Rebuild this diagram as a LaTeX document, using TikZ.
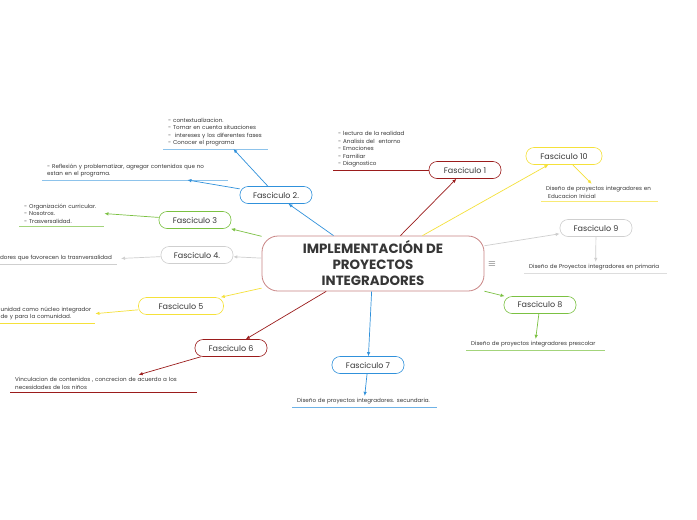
\documentclass[tikz,border=0pt]{standalone}
\usepackage{fontspec}
\setmainfont{Poppins}
\usetikzlibrary{arrows.meta}

\definecolor{rojo}{HTML}{9B1C1C}
\definecolor{azul}{HTML}{3091DB}
\definecolor{verde}{HTML}{7BC142}
\definecolor{gris}{HTML}{CFCFCF}
\definecolor{amarillo}{HTML}{F5E13A}
\definecolor{borde}{HTML}{C98585}
\definecolor{texto}{HTML}{363636}

\tikzset{
  fasc/.style={draw=#1, fill=white, rounded corners=8pt, minimum width=72pt,
    minimum height=17pt, line width=0.6pt, font=\fontsize{8}{9}\selectfont, text=texto},
  nota/.style={anchor=south west, align=left, text width=#1, inner xsep=5pt,
    inner ysep=2.5pt, font=\fontsize{5.6}{7.5}\selectfont, text=texto},
  flecha/.style={draw=#1, line width=0.7pt, -{Latex[length=4pt,width=3.5pt]}},
}

\begin{document}
\begin{tikzpicture}[x=1pt,y=-1pt]
\fill[white] (0,0) rectangle (697,520);
\useasboundingbox (0,0) rectangle (697,520);

% tema central
\node[draw=borde, fill=white, rounded corners=16pt, line width=0.8pt, minimum width=222pt,
  minimum height=55pt, align=center, text=texto,
  font=\bfseries\fontsize{13.4}{16}\selectfont] (c) at (373,263.5)
  {IMPLEMENTACIÓN DE\\PROYECTOS\\INTEGRADORES};
\node[text=texto, font=\fontsize{10}{10}\selectfont, inner sep=0pt] (menu) at (492,264) {$\equiv$};

% fasciculos
\node[fasc=rojo] (f1) at (465,170) {Fasciculo 1};
\node[fasc=azul] (f2) at (276,195) {Fasciculo 2.};
\node[fasc=verde] (f3) at (195,220) {Fasciculo 3};
\node[fasc=gris] (f4) at (197,255) {Fasciculo 4.};
\node[fasc=amarillo, minimum width=85pt] (f5) at (181,306) {Fasciculo 5};
\node[fasc=rojo] (f6) at (231,348) {Fasciculo 6};
\node[fasc=azul] (f7) at (368,365) {Fasciculo 7};
\node[fasc=verde] (f8) at (540,305) {Fasciculo 8};
\node[fasc=gris] (f9) at (596,228) {Fasciculo 9};
\node[fasc=amarillo, minimum width=76pt] (f10) at (564,156) {Fasciculo 10};

\draw[flecha=rojo] (c) -- (f1);
\draw[flecha=azul] (c) -- (f2);
\draw[flecha=verde] (c) -- (f3);
\draw[flecha=gris] (c) -- (f4);
\draw[flecha=amarillo] (c) -- (f5);
\draw[flecha=rojo] (c) -- (f6);
\draw[flecha=azul] (c) -- (f7);
\draw[flecha=verde] (c) -- (f8);
\draw[flecha=gris] (c) -- (f9);
\draw[flecha=amarillo] (c) -- (f10);

% notas
\node[nota=86pt] (n1) at (333,170)
  {- lectura de la realidad\\- Analisis del\ \ entorno\\- Emociones\\- Familiar\\- Diagnostico};
\node[nota=95pt] (n2a) at (163,149)
  {- contextualizacion.\\- Tomar en cuenta situaciones\\-\ \ intereses y los diferentes fases\\- Conocer el programa};
\node[nota=176pt] (n2b) at (42,180)
  {- Reflexión y problematizar, agregar contenidos que no\\estan en el programa.};
\node[nota=75pt] (n3) at (19,226) {- Organización curricular.\\- Nosotros.\\- Trasversalidad.};
\node[nota=112pt, anchor=south east, align=right] (n4) at (117,264)
  {dores que favorecen la trasnversalidad};
\node[nota=89.5pt] (n5) at (-4.5,323)
  {\mbox{unidad como núcleo integrador}\\de y para la comunidad.};
\node[nota=177pt] (n6) at (10,392)
  {Vinculacion de contenidos , concrecion de acuerdo a los\\necesidades de los niños};
\node[nota=135pt] (n7) at (292,407) {Diseño de proyectos integradores. secundaria.};
\node[nota=129pt] (n8) at (466,350) {Diseño de proyectos integradores prescolar};
\node[nota=133pt] (n9) at (524,273) {Diseño de Proyectos integradores en primaria};
\node[nota=107pt] (n10) at (541,201)
  {Diseño de proyectos integradores en\\\hspace{2pt}Educacion Inicial};

% subrayados
\draw[rojo, line width=0.6pt] (n1.south west) -- (f1.west);
\draw[azul!55, line width=0.6pt] (n2a.south west) -- (n2a.south east);
\draw[azul!55, line width=0.6pt] (n2b.south west) -- (n2b.south east);
\draw[verde!70, line width=0.6pt] (n3.south west) -- (n3.south east);
\draw[gris, line width=0.6pt] (n4.south west) -- (n4.south east);
\draw[amarillo, line width=0.6pt] (n5.south west) -- (n5.south east);
\draw[rojo, line width=0.6pt] (n6.south west) -- (n6.south east);
\draw[azul!70, line width=0.6pt] (n7.south west) -- (n7.south east);
\draw[verde!70, line width=0.6pt] (n8.south west) -- (n8.south east);
\draw[gris!70, line width=0.6pt] (n9.south west) -- (n9.south east);
\draw[amarillo!70, line width=0.6pt] (n10.south west) -- (n10.south east);

\draw[flecha=azul] (f2) -- ([xshift=-35pt]n2a.south east);
\draw[flecha=azul] (f2) -- ([xshift=-41pt]n2b.south east);
\draw[flecha=verde] (f3) -- (n3.east);
\draw[flecha=gris] (f4) -- ([xshift=4pt]n4.east);
\draw[flecha=amarillo] (f5) -- (n5.east);
\draw[flecha=rojo] (f6) -- ([xshift=35pt]n6.north);
\draw[flecha=azul] (f7) -- (n7.north);
\draw[flecha=verde] (f8) -- (n8.north);
\draw[flecha=gris] (f9) -- (n9.north);
\draw[flecha=amarillo] (f10) -- ([xshift=-8pt]n10.north);
\end{tikzpicture}
\end{document}
